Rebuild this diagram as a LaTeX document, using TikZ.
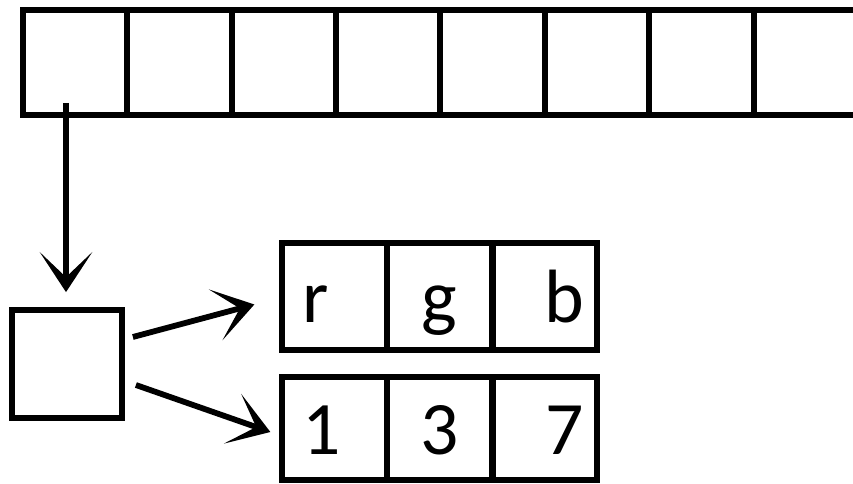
\documentclass[tikz,border=0pt]{standalone}
\usepackage{fontspec}
\setmainfont{Carlito}
\usetikzlibrary{arrows.meta}

\begin{document}
\begin{tikzpicture}[x=0.02cm,y=0.02cm,
  cell/.style={draw=black,line width=3.3pt,minimum width=2.09cm,minimum height=2.1cm,inner sep=0pt},
  entry/.style={cell,font=\fontsize{43}{43}\selectfont,text height=1.25cm,text depth=0.2cm},
  link/.style={line width=3.3pt,-{Stealth[length=0.8cm,width=1.05cm,inset=0.5cm]}}]

  \useasboundingbox (0,0) rectangle (853,484);

  % Top array of 8 slots
  \foreach \n in {1,...,8} {
    \pgfmathsetmacro\x{75+104.4*(\n-1)}
    \node[cell] (slot\n) at (\x,421.5) {};
  }

  % Pointer cell
  \node[cell,minimum width=2.2cm,minimum height=2.16cm] (ptr) at (67,120) {};

  % Channel names and values
  \foreach \n/\t/\a/\w/\x in {1/r/left/1.3/334.5,2/g/center/1.3/439.5,3/b/right/1.55/545} {
    \node[entry,align=\a,text width=\w cm,minimum height=2.14cm] (chan\n) at (\x,187.5) {\t};
  }
  \foreach \n/\t/\a/\w/\x in {1/1/left/1.3/334.5,2/3/center/1.3/439.5,3/7/right/1.55/545} {
    \node[entry,align=\a,text width=\w cm,minimum height=2.06cm] (val\n) at (\x,55.5) {\t};
  }

  % Links
  \draw[link] ([shift={(-9,15)}]slot1.south) -- ([shift={(-1,15)}]ptr.north);
  \draw[link] ([shift={(8,27)}]ptr.east) -- ([shift={(-25,-8)}]chan1.west);
  \draw[link] ([shift={(11,-21)}]ptr.east) -- ([shift={(-9,-3.5)}]val1.west);

\end{tikzpicture}
\end{document}
